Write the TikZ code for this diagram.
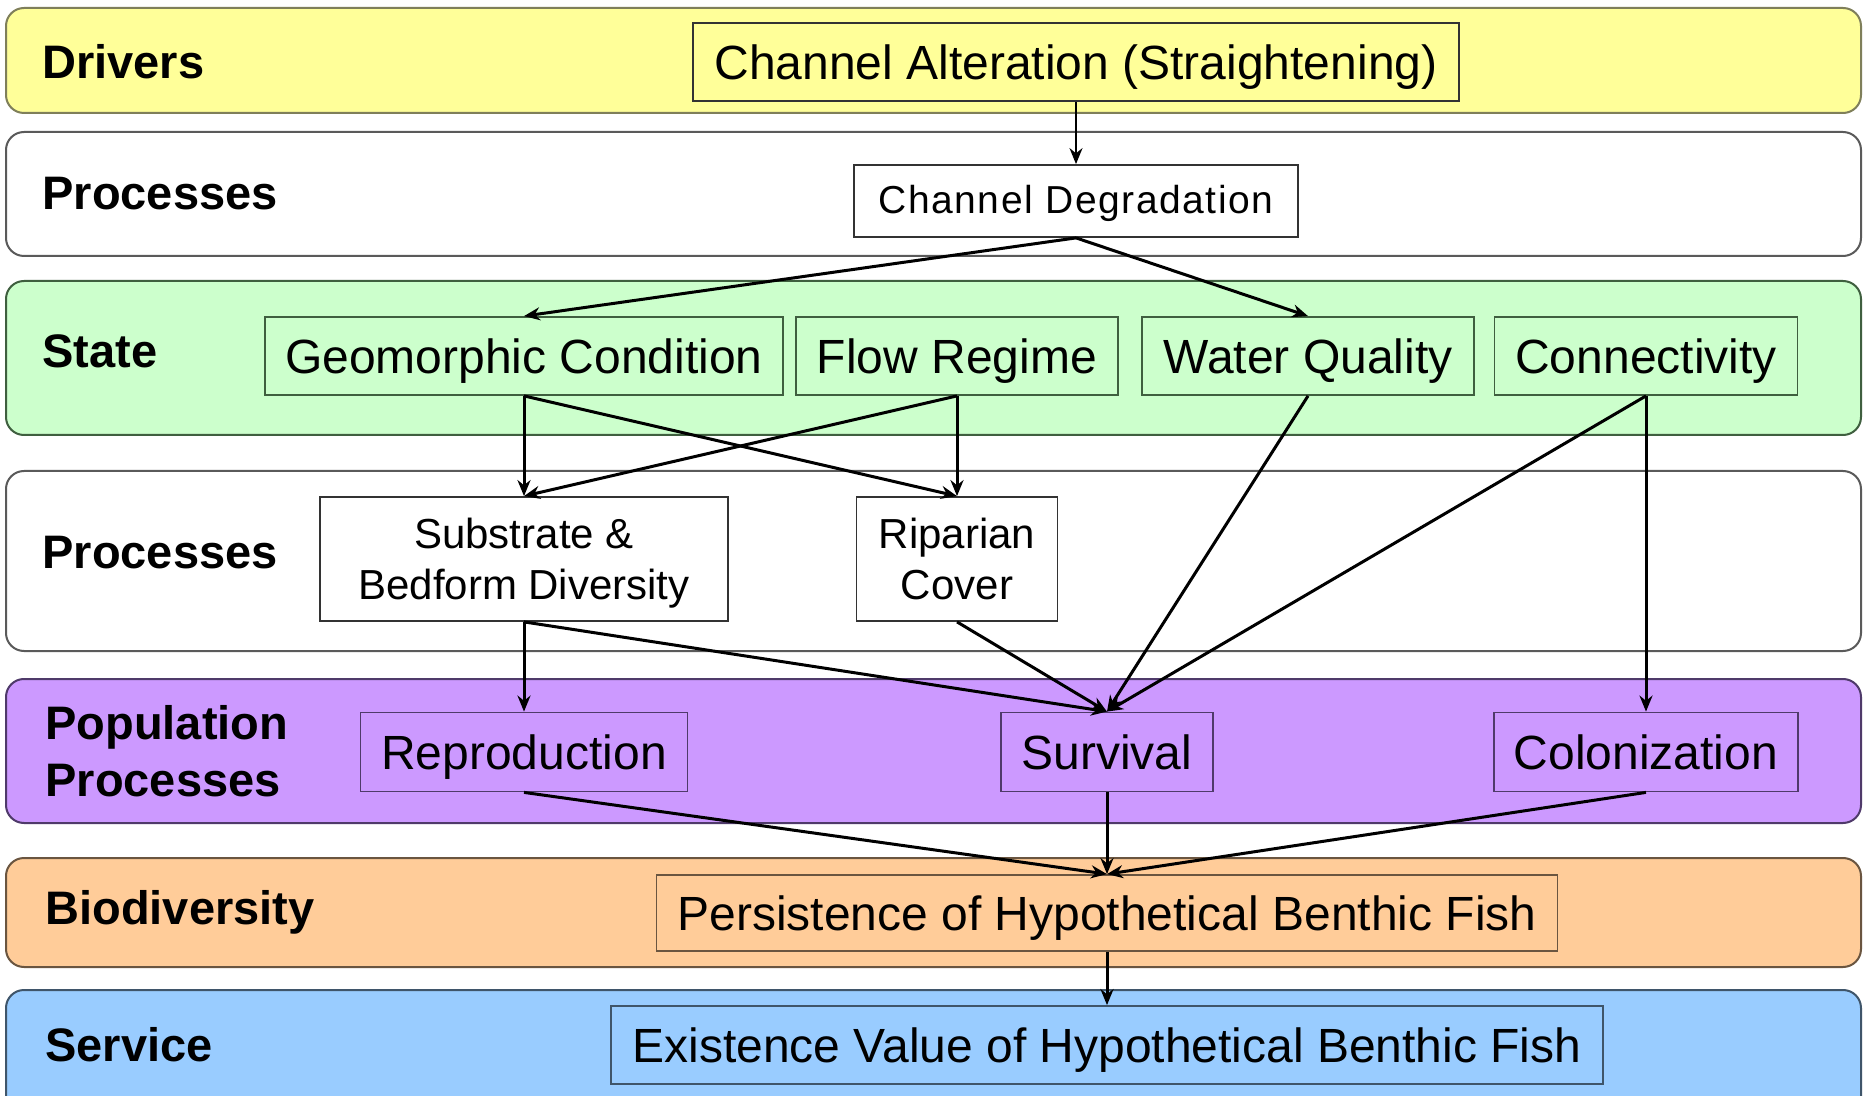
\documentclass[tikz,border=0pt]{standalone}
\usepackage{fontspec}
\setmainfont{Liberation Sans}
\newfontfamily\spacedsans[LetterSpace=4]{Liberation Sans}
\usetikzlibrary{arrows.meta}

\definecolor{yelfill}{HTML}{FFFF99}
\definecolor{yelline}{HTML}{7F7F5A}
\definecolor{grnfill}{HTML}{CCFFCC}
\definecolor{grnline}{HTML}{3F5F3F}
\definecolor{purfill}{HTML}{CC99FF}
\definecolor{purline}{HTML}{4F3A6A}
\definecolor{orafill}{HTML}{FFCC99}
\definecolor{oraline}{HTML}{6A5540}
\definecolor{blufill}{HTML}{99CCFF}
\definecolor{bluline}{HTML}{3F556A}
\definecolor{whtline}{HTML}{5A5A5A}

\tikzset{
  band/.style={rounded corners=9pt, line width=1pt},
  tierlabel/.style={anchor=west, inner sep=0pt, align=left,
    font=\fontsize{23.5}{28.5}\selectfont\bfseries},
  box/.style={draw=#1, line width=0.9pt, inner sep=0pt, align=center,
    font=\fontsize{24}{25}\selectfont, text height=17.2pt, text depth=0pt},
  smallbox/.style={draw=#1, line width=0.9pt, inner sep=0pt,
    font=\fontsize{21}{25}\selectfont, text height=40pt, text depth=0pt},
  link/.style={line width=1.5pt, -{Stealth[length=8pt,width=6.5pt]}}
}
% two centred lines whose reference point is the last baseline
\newcommand\twolines[2]{\begin{tabular}[b]{@{}c@{}}#1\\#2\end{tabular}}

\begin{document}
\begin{tikzpicture}[x=0.5pt,y=-0.5pt]
\useasboundingbox (0,0) rectangle (1864,1096);
\fill[white] (0,0) rectangle (1864,1096);

% horizontal tiers
\filldraw[band, fill=yelfill, draw=yelline] (6,8) rectangle (1861,113);
\filldraw[band, fill=white,   draw=whtline] (6,132) rectangle (1861,256);
\filldraw[band, fill=grnfill, draw=grnline] (6,281) rectangle (1861,435);
\filldraw[band, fill=white,   draw=whtline] (6,471) rectangle (1861,651);
\filldraw[band, fill=purfill, draw=purline] (6,679) rectangle (1861,823);
\filldraw[band, fill=orafill, draw=oraline] (6,858) rectangle (1861,967);
\filldraw[band, fill=blufill, draw=bluline] (6,990) rectangle (1861,1115);

% tier names
\node[tierlabel] (lDrv) at (42,62) {Drivers};
\node[tierlabel] (lPr1) at (42,194) {Processes};
\node[tierlabel] (lSta) at (42,351) {State};
\node[tierlabel] (lPr2) at (42,553) {Processes};
\node[tierlabel] (lPop) at (45,751) {Population\\Processes};
\node[tierlabel] (lBio) at (45,912) {Biodiversity};
\node[tierlabel] (lSrv) at (45,1045) {Service};

% boxes
\node[box=black!80, fill=yelfill, minimum width=383pt, minimum height=39pt]
  (ca) at (1076,62) {Channel Alteration (Straightening)};
\node[box=black!80, fill=white, minimum width=222pt, minimum height=36pt,
      font=\fontsize{19.5}{21}\spacedsans, text height=14pt, text depth=1pt]
  (cd) at (1076,201) {Channel Degradation};

\node[box=grnline, fill=grnfill, minimum width=259pt, minimum height=39pt]
  (geo) at (524,356) {Geomorphic Condition};
\node[box=grnline, fill=grnfill, minimum width=161pt, minimum height=39pt]
  (flow) at (957,356) {Flow Regime};
\node[box=grnline, fill=grnfill, minimum width=166pt, minimum height=39pt]
  (wq) at (1308,356) {Water Quality};
\node[box=grnline, fill=grnfill, minimum width=151.5pt, minimum height=39pt]
  (conn) at (1646,356) {Connectivity};

\node[smallbox=black!80, fill=white, minimum width=204pt, minimum height=62pt]
  (sub) at (524,559) {\twolines{Substrate \&}{Bedform Diversity}};
\node[smallbox=black!80, fill=white, minimum width=100.5pt, minimum height=62pt]
  (rip) at (957,559) {\twolines{Riparian}{Cover}};

\node[box=purline, fill=purfill, minimum width=163.5pt, minimum height=39.5pt]
  (rep) at (524,752) {Reproduction};
\node[box=purline, fill=purfill, minimum width=106pt, minimum height=39.5pt]
  (surv) at (1107,752) {Survival};
\node[box=purline, fill=purfill, minimum width=152pt, minimum height=39.5pt]
  (col) at (1646,752) {Colonization};

\node[box=oraline, fill=orafill, minimum width=450.5pt, minimum height=38pt]
  (pers) at (1107,913) {Persistence of Hypothetical Benthic Fish};
\node[box=bluline, fill=blufill, minimum width=496pt, minimum height=39pt]
  (exist) at (1107,1045) {Existence Value of Hypothetical Benthic Fish};

% influences
\draw[link, line width=0.9pt] (ca.south) -- (cd.north);
\draw[link] (cd.south) -- (geo.north);
\draw[link] (cd.south) -- (wq.north);
\draw[link] (geo.south) -- (sub.north);
\draw[link] (geo.south) -- (rip.north);
\draw[link] (flow.south) -- (sub.north);
\draw[link] (flow.south) -- (rip.north);
\draw[link] (wq.south) -- (surv.north);
\draw[link] (conn.south) -- (surv.north);
\draw[link] (conn.south) -- (col.north);
\draw[link] (sub.south) -- (rep.north);
\draw[link] (sub.south) -- (surv.north);
\draw[link] (rip.south) -- (surv.north);
\draw[link] (rep.south) -- (pers.north);
\draw[link] (surv.south) -- (pers.north);
\draw[link] (col.south) -- (pers.north);
\draw[link] (pers.south) -- (exist.north);
\end{tikzpicture}
\end{document}
